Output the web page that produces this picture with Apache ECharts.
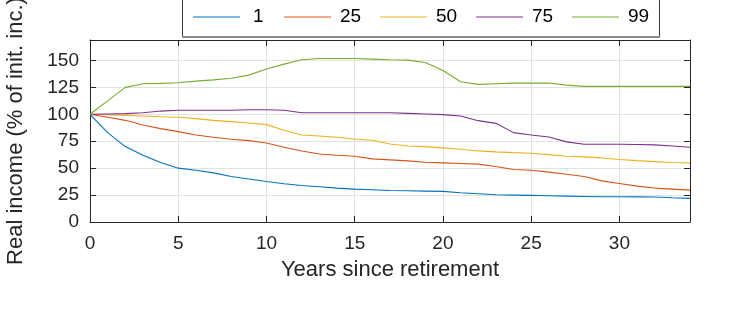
<!DOCTYPE html>
<html>
<head>
<meta charset="utf-8">
<script src="https://cdn.jsdelivr.net/npm/echarts@6/dist/echarts.min.js"></script>
<style>
  html, body { margin: 0; padding: 0; background: #fff; }
  #chart { width: 744px; height: 323px; }
</style>
</head>
<body>
<div id="chart"></div>
<script>
// Years since retirement
const years = [0, 1, 2, 3, 4, 5, 6, 7, 8, 9, 10, 11, 12, 13, 14, 15, 16, 17, 18, 19, 20,
               21, 22, 23, 24, 25, 26, 27, 28, 29, 30, 31, 32, 33, 34];

// Real income percentiles (% of initial income)
const pct1  = [100, 83, 70, 62, 55.2, 50, 48, 45.6, 42.3, 40, 37.6, 35.5, 33.9, 32.7, 31.5, 30.5,
               29.9, 29.3, 29, 28.7, 28.4, 27.1, 26.2, 25.3, 25, 24.7, 24.4, 24, 23.7, 23.4, 23.4,
               23.3, 23.2, 22.5, 21.9];
const pct25 = [100, 97.2, 94.4, 90, 86.7, 83.9, 80.8, 78.7, 76.8, 75.6, 73.4, 69.4, 66, 63.2, 62,
               61.1, 58.6, 57.7, 56.8, 55.5, 54.9, 54.3, 53.7, 51.5, 48.7, 48.1, 46.3, 44.4, 42.2,
               38.2, 35.8, 33.3, 31.5, 30.5, 29.6];
const pct50 = [100, 99.6, 99, 98.4, 97.8, 97.2, 96, 94.4, 93.2, 91.9, 90.4, 85.2, 80.8, 79.9, 78.7,
               77.1, 75.9, 72.5, 70.6, 70, 68.8, 67.6, 66, 65.1, 64.4, 63.9, 62.6, 61.1, 60.5, 59.5,
               58, 57, 56.1, 55.2, 54.9];
const pct75 = [100, 100.3, 100.6, 101.5, 103, 103.7, 103.7, 103.7, 103.7, 104.3, 104.3, 103.7, 101.5,
               101.5, 101.5, 101.5, 101.5, 101.5, 100.9, 100.3, 99.7, 98.4, 94.1, 91.6, 83, 80.8, 79,
               74.4, 72.2, 72.2, 72.2, 71.9, 71.6, 70.6, 69.4];
const pct99 = [100, 112.5, 125, 128.4, 128.7, 129.3, 130.8, 132, 133.5, 136.4, 142, 146.6, 150.6,
               151.8, 151.8, 151.8, 151.2, 150.6, 150.3, 148.1, 140.7, 130.2, 127.8, 128.4, 129, 129,
               129, 127.1, 125.9, 125.9, 125.9, 125.9, 125.9, 125.9, 125.9];

const seriesNames = ['1', '25', '50', '75', '99'];
const xTicks = [0, 5, 10, 15, 20, 25, 30];
const yTicks = [0, 25, 50, 75, 100, 125, 150];

const colors = ['#0072BD', '#D95319', '#EDB120', '#7E2F8E', '#77AC30'];
const FONT = '"Liberation Sans", Arial, Helvetica, sans-serif';
const INK = '#262626';

const values = [pct1, pct25, pct50, pct75, pct99];

const chart = echarts.init(document.getElementById('chart'), null, { renderer: 'canvas' });

const axisLineStyle = { color: INK, width: 1 };

function makeLegend(name, left, padLeft) {
  return {
    data: [name],
    left: left,
    top: 7,
    padding: 0,
    icon: 'rect',
    itemWidth: 47,
    itemHeight: 1.2,
    selectedMode: false,
    textStyle: {
      fontFamily: FONT,
      fontSize: 19,
      color: '#000',
      lineHeight: 20,
      padding: [0, 0, 0, padLeft]
    }
  };
}

const option = {
  animation: false,
  backgroundColor: '#fff',
  color: colors,
  grid: { left: 90, right: 54, top: 40, bottom: 101, containLabel: false, outerBoundsMode: 'none' },
  graphic: [
    {
      type: 'rect',
      z: 0,
      shape: { x: 182.5, y: -10, width: 477, height: 47 },
      style: { fill: '#fff', stroke: '#3a3a3a', lineWidth: 1 }
    },
    {
      type: 'line',
      z: 1,
      shape: { x1: 182, y1: 37, x2: 660, y2: 37 },
      style: { stroke: '#8c8c8c', lineWidth: 2 }
    }
  ],
  legend: [
    makeLegend('1', 193, 8),
    makeLegend('25', 284, 4),
    makeLegend('50', 380, 4),
    makeLegend('75', 476, 4),
    makeLegend('99', 572, 4)
  ],
  xAxis: [
    {
      type: 'value',
      min: 0,
      max: 34,
      interval: 5,
      position: 'bottom',
      name: 'Years since retirement',
      nameLocation: 'middle',
      nameGap: 37,
      nameTextStyle: { fontFamily: FONT, fontSize: 22, color: INK },
      axisLine: { show: true, onZero: false, lineStyle: axisLineStyle },
      axisTick: { show: true, inside: true, length: 6, customValues: xTicks, lineStyle: axisLineStyle },
      axisLabel: { customValues: xTicks, fontFamily: FONT, fontSize: 19, color: INK, margin: 12 },
      splitLine: { show: true, lineStyle: { color: '#e2e2e2', width: 1 } }
    },
    {
      type: 'value',
      min: 0,
      max: 34,
      interval: 5,
      position: 'top',
      axisLine: { show: true, onZero: false, lineStyle: axisLineStyle },
      axisTick: { show: true, inside: true, length: 6, customValues: xTicks, lineStyle: axisLineStyle },
      axisLabel: { show: false },
      splitLine: { show: false }
    }
  ],
  yAxis: [
    {
      type: 'value',
      min: 0,
      max: 169,
      interval: 25,
      position: 'left',
      name: 'Real income (% of init. inc.)',
      nameLocation: 'middle',
      nameGap: 63,
      nameRotate: 90,
      nameTextStyle: { fontFamily: FONT, fontSize: 22, color: INK },
      axisLine: { show: true, onZero: false, lineStyle: axisLineStyle },
      axisTick: { show: true, inside: true, length: 6, customValues: yTicks, lineStyle: axisLineStyle },
      axisLabel: { customValues: yTicks, fontFamily: FONT, fontSize: 19, color: INK, margin: 11 },
      splitLine: { show: true, lineStyle: { color: '#e2e2e2', width: 1 } }
    },
    {
      type: 'value',
      min: 0,
      max: 169,
      interval: 25,
      position: 'right',
      axisLine: { show: true, onZero: false, lineStyle: axisLineStyle },
      axisTick: { show: true, inside: true, length: 6, customValues: yTicks, lineStyle: axisLineStyle },
      axisLabel: { show: false },
      splitLine: { show: false }
    }
  ],
  series: seriesNames.map((name, i) => ({
    name: name,
    type: 'line',
    xAxisIndex: 0,
    yAxisIndex: 0,
    symbol: 'none',
    lineStyle: { width: 1.1, color: colors[i] },
    itemStyle: { color: colors[i] },
    data: years.map((y, k) => [y, values[i][k]])
  }))
};

chart.setOption(option);
</script>
</body>
</html>
